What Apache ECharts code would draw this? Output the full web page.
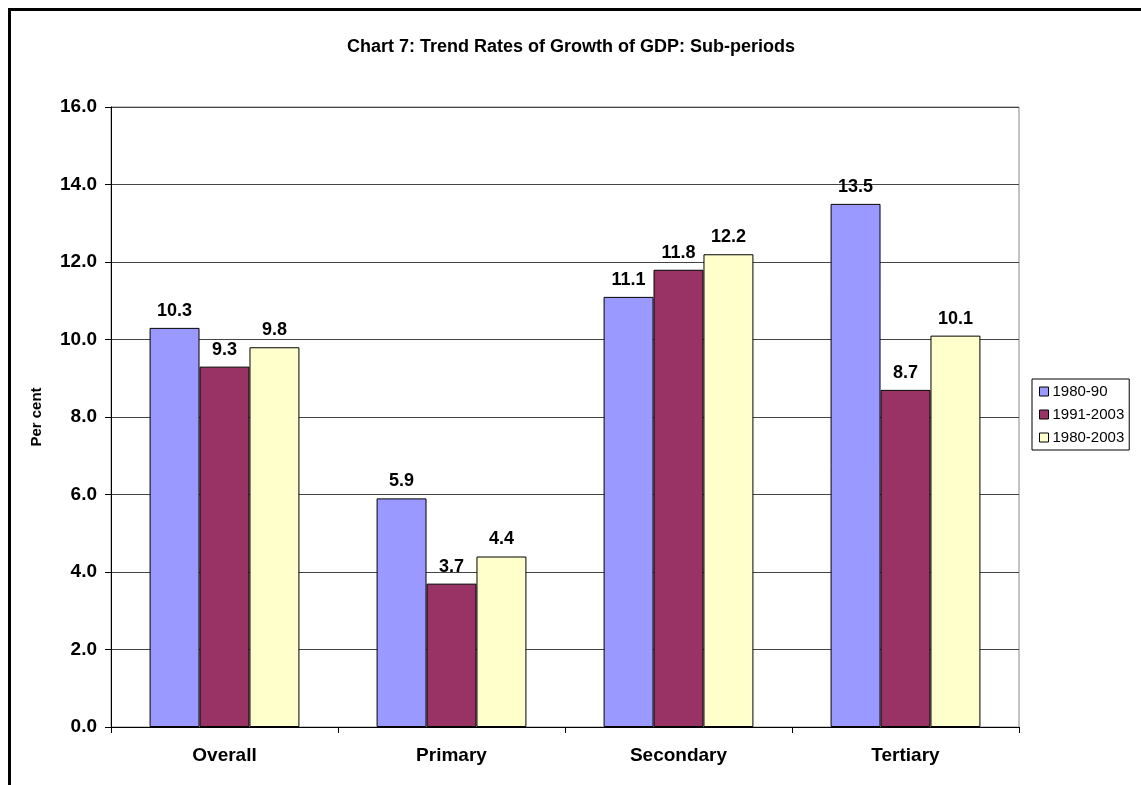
<!DOCTYPE html>
<html>
<head>
<meta charset="utf-8">
<script src="https://cdn.jsdelivr.net/npm/echarts@6/dist/echarts.min.js"></script>
<style>
html,body{margin:0;padding:0;background:#fff;}
#chart{width:1141px;height:785px;}
</style>
</head>
<body>
<div id="chart"></div>
<script>
const categories = ['Overall', 'Primary', 'Secondary', 'Tertiary'];
const seriesNames = ['1980-90', '1991-2003', '1980-2003'];
const s1980_90 = [10.3, 5.9, 11.1, 13.5];
const s1991_2003 = [9.3, 3.7, 11.8, 8.7];
const s1980_2003 = [9.8, 4.4, 12.2, 10.1];
const colors = ['#9999FF', '#993366', '#FFFFCC'];
const yTicks = { min: 0, max: 16, interval: 2 };

const font = 'Arial, "Liberation Sans", sans-serif';
const chart = echarts.init(document.getElementById('chart'), null, { renderer: 'canvas' });

function mkSeries(name, data, color) {
  return {
    name: name,
    type: 'bar',
    data: data,
    barGap: '0%',
    barCategoryGap: '34%',
    itemStyle: { color: color, borderColor: '#000', borderWidth: 1 },
    label: {
      show: true,
      position: 'top',
      distance: 8,
      formatter: p => p.value.toFixed(1),
      fontFamily: font,
      fontWeight: 'bold',
      fontSize: 18,
      color: '#000'
    }
  };
}

chart.setOption({
  animation: false,
  backgroundColor: '#fff',
  title: {
    text: 'Chart 7: Trend Rates of Growth of GDP: Sub-periods',
    left: 566,
    top: 33,
    textAlign: 'center',
    textStyle: { fontFamily: font, fontWeight: 'bold', fontSize: 18, color: '#000' }
  },
  graphic: [{
    type: 'rect',
    shape: { x: 9.5, y: 9.5, width: 1150, height: 800 },
    style: { fill: 'none', stroke: '#000', lineWidth: 3 },
    silent: true,
    z: 100
  }],
  legend: {
    orient: 'vertical',
    left: 1032,
    top: 379,
    data: seriesNames,
    icon: 'rect',
    itemWidth: 9,
    itemHeight: 9,
    itemGap: 8,
    padding: [5, 5, 5, 7],
    borderColor: '#000',
    borderWidth: 1,
    itemStyle: { borderColor: '#000', borderWidth: 1 },
    textStyle: { fontFamily: font, fontSize: 15, color: '#000', padding: [0, 0, 0, -1] }
  },
  grid: {
    left: 111, right: 122, top: 107, bottom: 58,
    show: true, borderColor: '#888', borderWidth: 1,
    containLabel: false
  },
  xAxis: {
    type: 'category',
    data: categories,
    axisLine: { lineStyle: { color: '#000', width: 1 } },
    axisTick: { show: true, alignWithLabel: false, length: 6, lineStyle: { color: '#000' } },
    axisLabel: { fontFamily: font, fontWeight: 'bold', fontSize: 19, color: '#000', margin: 19 }
  },
  yAxis: {
    type: 'value',
    min: yTicks.min, max: yTicks.max, interval: yTicks.interval,
    name: 'Per cent',
    nameLocation: 'middle',
    nameGap: 67,
    nameRotate: 90,
    nameTextStyle: { fontFamily: font, fontWeight: 'bold', fontSize: 15, color: '#000' },
    axisLine: { show: true, lineStyle: { color: '#000', width: 1 } },
    axisTick: { show: true, length: 6, lineStyle: { color: '#000' } },
    splitLine: { lineStyle: { color: '#444', width: 1 } },
    axisLabel: {
      fontFamily: font, fontWeight: 'bold', fontSize: 19, color: '#000', margin: 14,
      formatter: v => v.toFixed(1)
    }
  },
  series: [
    mkSeries(seriesNames[0], s1980_90, colors[0]),
    mkSeries(seriesNames[1], s1991_2003, colors[1]),
    mkSeries(seriesNames[2], s1980_2003, colors[2])
  ]
});
</script>
</body>
</html>
